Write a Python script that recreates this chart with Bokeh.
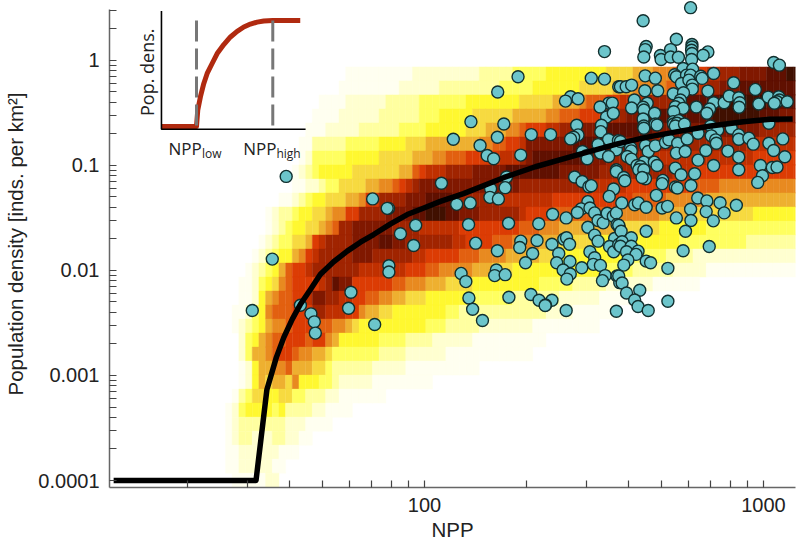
from math import pi
from bokeh.embed import file_html
from bokeh.models import ColumnDataSource, FixedTicker, LinearScale, Range1d
from bokeh.plotting import figure
from bokeh.resources import INLINE
from bokeh.core.properties import value

# ---- tick labels
x_ticks = [100, 1000]
x_minor = [20, 30, 40, 50, 60, 70, 80, 90, 200, 300, 400, 500, 600, 700, 800, 900]
y_ticks = [0.0001, 0.001, 0.01, 0.1, 1]
y_minor = [m * d for d in (0.0001, 0.001, 0.01, 0.1, 1) for m in (2, 3, 4, 5, 6, 7, 8, 9) if m * d < 3.04]
y_tick_labels = {0.0001: "0.0001", 0.001: "0.001", 0.01: "0.01", 0.1: "0.1", 1: "1"}

# ---- posterior density heat map: one string per density bin, one level per NPP bin
heat_x_first_log = 1.413
heat_x_step_log = 0.0197
heat_y_top_log = -0.0635
heat_y_step_log = 2 / 15
heat_palette = {
    "0": "#ffffff", "1": "#fffff0", "2": "#ffffd0", "3": "#ffffa0", "4": "#ffff60", "5": "#fff830",
    "6": "#f7da40", "7": "#eeb030", "8": "#e88a20", "9": "#e26010", "a": "#dc3c04", "b": "#c03000",
    "c": "#a02400", "d": "#801800", "e": "#601000", "f": "#401000",
}
heat_rows = [
    "00000 00000 00000 00011 11111 11122 22222 22233 33344 44455 55555 55666 67778 889aa aabbc ccddd deeef f",
    "00000 00000 00000 00111 11111 12222 22333 33333 34444 45555 55566 66677 78888 899ab bbccd ddeee eeeee e",
    "00000 00000 00001 11122 22223 33334 44444 45555 55556 66667 77789 99aab bbbcc ccdde eeeef fffff feeee e",
    "00000 00000 00011 11222 22233 33334 44555 55666 66677 77788 999aa aabcc ddeee eeeee eeeff fffff eeedd d",
    "00000 00000 00111 22222 33333 34444 55555 56667 77889 aaabb cccdd ddeee eeeed ddddd ddddd ddddd ccccc c",
    "00000 00000 01133 33344 44455 55666 77777 77788 99aab ddddd ddeee eeedd ddddc ccccc ccccc cccbb bbbbb b",
    "00000 00000 01244 44455 55566 66677 78899 9aaaa abbbc deeee eeeed ddccc cccbb bbbbb bbbbb bbbba aaaaa a",
    "00000 00000 12345 55556 66666 6779a bbbcc ccddd ddeee eeeee ddddd dcccc ccccc ccbbb aaaaa aaaaa aaaaa a",
    "00000 00000 11223 44666 67788 9abcd ddddd ddddd ddddc ccccc ccccc bbbbb aaaaa aaaaa 99998 88888 88888 8",
    "00000 00011 23455 66677 8aacc ccddd eeeed ccccc cbbbb bbbba aaaaa aaaaa a9999 98888 88777 77777 77777 7",
    "00000 01233 45566 788aa ccccd dddee fffee dddcc ccccb aaaa9 99999 99998 88888 77777 66666 66665 55555 5",
    "00000 01234 55667 89ccd ddddd ccccb bbbbb aaaaa aaaa9 99888 77777 77776 66666 55555 55444 44444 44444 4",
    "00000 12344 667ab ccccd dddee ddccc ccccb baaaa 99988 88777 66666 55555 55555 55544 44444 44433 33333 3",
    "00001 23455 78abc ccccd ddccc cccbb aaaaa 99988 88777 77666 55555 55555 54444 43333 22222 22222 22222 2",
    "00012 34579 aabcc ccccc bbbbb bbaaa 99888 88777 66655 55555 55555 54444 43333 33222 22111 11111 11111 1",
    "00112 45689 aaaab cedda aaaaa 99888 77766 66555 55555 55444 44333 33222 22221 11111 10000 00000 00000 0",
    "00112 57899 aabdd ccbba a9988 77666 55555 55444 44433 33333 22222 21111 10000 00000 00000 00000 00000 0",
    "01124 58999 aaacc bbbaa 87766 55555 55544 33333 33333 33322 22111 11110 00000 00000 00000 00000 00000 0",
    "01234 57889 aaaa9 98876 55555 55555 44433 33322 22222 21111 11111 10000 00000 00000 00000 00000 00000 0",
    "00245 7899a aa9aa 87555 55544 44333 32222 22111 11111 11100 00000 00000 00000 00000 00000 00000 00000 0",
    "00247 789aa 98877 64444 44433 33222 22211 11111 11111 10000 00000 00000 00000 00000 00000 00000 00000 0",
    "00125 77889 77766 43333 33222 22111 11111 11100 00000 00000 00000 00000 00000 00000 00000 00000 00000 0",
    "00125 76776 85554 43222 22111 11111 10000 00000 00000 00000 00000 00000 00000 00000 00000 00000 00000 0",
    "01346 65566 44333 22111 11110 00000 00000 00000 00000 00000 00000 00000 00000 00000 00000 00000 00000 0",
    "12455 55453 33322 11110 00000 00000 00000 00000 00000 00000 00000 00000 00000 00000 00000 00000 00000 0",
    "12333 33332 22111 10000 00000 00000 00000 00000 00000 00000 00000 00000 00000 00000 00000 00000 00000 0",
    "12332 22332 21100 00000 00000 00000 00000 00000 00000 00000 00000 00000 00000 00000 00000 00000 00000 0",
    "11222 22211 10000 00000 00000 00000 00000 00000 00000 00000 00000 00000 00000 00000 00000 00000 00000 0",
    "11222 22110 00000 00000 00000 00000 00000 00000 00000 00000 00000 00000 00000 00000 00000 00000 00000 0",
    "01111 12200 00000 00000 00000 00000 00000 00000 00000 00000 00000 00000 00000 00000 00000 00000 00000 0",
]

# ---- mean relationship (log10 NPP, log10 density)
curve_log_npp = [1.083, 1.503, 1.535, 1.563, 1.585, 1.610, 1.634, 1.664, 1.693, 1.732, 1.772, 1.811, 1.850,
                 1.900, 1.949, 1.998, 2.047, 2.115, 2.233, 2.327, 2.451, 2.569, 2.646, 2.746, 2.844, 2.941,
                 3.021, 3.086]
curve_log_density = [-4, -4, -3.137, -2.828, -2.638, -2.464, -2.322, -2.18, -2.038, -1.918, -1.817, -1.732,
                     -1.659, -1.557, -1.469, -1.406, -1.343, -1.27, -1.118, -1.014, -0.9, -0.796, -0.739,
                     -0.68, -0.626, -0.585, -0.562, -0.559]

# ---- observed populations (log10 NPP, log10 density)
obs_low_npp = [
    (1.592, -1.106), (1.847, -1.320), (1.894, -1.410), (1.890, -1.410), (1.974, -1.571), (1.929, -1.652),
    (1.968, -1.763), (2.050, -1.171), (1.551, -1.893), (1.895, -1.956), (1.895, -2.016), (1.783, -2.209),
    (1.776, -2.360), (1.853, -2.515), (1.492, -2.382), (1.634, -2.332), (1.665, -2.414), (1.675, -2.490),
    (1.678, -2.597),
]
obs_mid_upper = [
    (2.531, 0.082), (2.276, -0.158), (2.492, -0.171), (2.531, -0.180), (2.573, -0.253), (2.216, -0.303),
    (2.431, -0.348), (2.416, -0.389), (2.453, -0.367), (2.137, -0.585), (2.234, -0.607), (2.544, -0.408),
    (2.518, -0.446), (2.554, -0.509), (2.537, -0.540), (2.449, -0.619), (2.522, -0.619), (2.520, -0.680),
    (2.085, -0.752), (2.164, -0.812), (2.215, -0.733), (2.315, -0.708), (2.372, -0.708), (2.453, -0.711),
    (2.440, -0.733), (2.431, -0.749), (2.543, -0.755), (2.512, -0.803), (2.572, -0.765), (2.566, -0.853),
    (2.466, -0.869), (2.519, -0.884), (2.543, -0.917), (2.478, -0.910), (2.480, -0.938), (2.185, -0.907),
    (2.204, -0.938), (2.284, -0.903), (2.566, -1.043),
]
obs_mid_lower = [
    (2.242, -1.112), (2.195, -1.223), (2.238, -1.213), (2.193, -1.305), (2.218, -1.320), (2.095, -1.372),
    (2.135, -1.358), (2.130, -1.564), (2.248, -1.552), (2.337, -1.557), (2.378, -1.466), (2.418, -1.501),
    (2.443, -1.112), (2.465, -1.154), (2.485, -1.204), (2.492, -1.194), (2.566, -1.059), (2.558, -1.226),
    (2.545, -1.296), (2.482, -1.346), (2.462, -1.415), (2.451, -1.450), (2.488, -1.406), (2.502, -1.453),
    (2.512, -1.526), (2.527, -1.548), (2.539, -1.457), (2.557, -1.485), (2.566, -1.453), (2.482, -1.590),
    (2.568, -1.564), (2.575, -1.595), (2.502, -1.665), (2.512, -1.722), (2.561, -1.697), (2.546, -1.773),
    (2.558, -1.823), (2.573, -1.754), (2.151, -1.741), (2.215, -1.813), (2.284, -1.722), (2.281, -1.782),
    (2.332, -1.716), (2.376, -1.751), (2.411, -1.703), (2.419, -1.690), (2.428, -1.751), (2.319, -1.839),
    (2.298, -1.927), (2.396, -1.839), (2.390, -1.927), (2.429, -1.915), (2.488, -1.823), (2.502, -1.880),
    (2.498, -1.943), (2.519, -1.953), (2.464, -1.975), (2.409, -1.997), (2.430, -2.035), (2.420, -2.083),
    (2.533, -2.050), (2.525, -2.098), (2.568, -2.054), (2.576, -2.117), (2.108, -2.029), (2.122, -2.107),
    (2.212, -1.997), (2.207, -2.050), (2.238, -2.041), (2.131, -2.263), (2.249, -2.256), (2.142, -2.370),
    (2.171, -2.477), (2.314, -2.230), (2.338, -2.284), (2.376, -2.284), (2.357, -2.329), (2.356, -2.335),
    (2.418, -2.382), (2.566, -2.389),
]
obs_high_upper = [
    (2.785, 0.500), (2.645, 0.376), (2.743, 0.199), (2.654, 0.130), (2.651, 0.101), (2.647, 0.031),
    (2.696, 0.045), (2.698, 0.007), (2.726, 0.101), (2.726, 0.031), (2.749, 0.028), (2.789, 0.149),
    (2.789, 0.126), (2.788, 0.095), (2.789, 0.064), (2.788, 0.007), (2.836, 0.079), (2.822, 0.047),
    (3.030, -0.022), (3.047, -0.047), (2.763, -0.079), (2.791, -0.085), (2.651, -0.149), (2.681, -0.171),
    (2.738, -0.139), (2.743, -0.158), (2.773, -0.142), (2.785, -0.142), (2.815, -0.152), (2.819, -0.173),
    (2.853, -0.126), (2.912, -0.215), (2.758, -0.221), (2.780, -0.190), (2.790, -0.237), (2.790, -0.275),
    (2.578, -0.253), (2.595, -0.253), (2.611, -0.237), (2.650, -0.291), (2.688, -0.291), (2.734, -0.319),
    (2.764, -0.310), (2.836, -0.294), (2.976, -0.278), (2.619, -0.379), (2.611, -0.455), (2.657, -0.410),
    (2.645, -0.448), (2.647, -0.474), (2.755, -0.379), (2.750, -0.410), (2.740, -0.443), (2.763, -0.458),
    (2.735, -0.490), (2.802, -0.446), (2.853, -0.405), (2.884, -0.405), (2.899, -0.341), (2.927, -0.357),
    (2.930, -0.405), (2.928, -0.448), (2.841, -0.464), (2.833, -0.505), (2.986, -0.417), (3.014, -0.351),
    (3.045, -0.348), (3.047, -0.379), (3.040, -0.395), (3.032, -0.410), (3.070, -0.395), (2.679, -0.505),
    (2.554, -0.408), (2.557, -0.505), (2.645, -0.559), (2.647, -0.626), (2.647, -0.647), (2.681, -0.607),
    (2.686, -0.616), (2.734, -0.585), (2.735, -0.607), (2.750, -0.575), (2.745, -0.600), (2.740, -0.626),
    (2.767, -0.607), (2.844, -0.626), (2.865, -0.664), (2.905, -0.647), (3.016, -0.600), (2.807, -0.695),
    (2.846, -0.720), (2.859, -0.758), (2.861, -0.790), (2.927, -0.711), (2.927, -0.752), (2.957, -0.742),
    (2.970, -0.799), (3.057, -0.749), (3.016, -0.790), (3.030, -0.860), (3.063, -0.919), (2.578, -0.774),
    (2.608, -0.831), (2.610, -0.863), (2.652, -0.812), (2.660, -0.869), (2.681, -0.815), (2.711, -0.784),
    (2.721, -0.758), (2.747, -0.790), (2.775, -0.749), (2.743, -0.884), (2.769, -0.869), (2.830, -0.860),
    (2.895, -0.865), (2.927, -0.922), (2.807, -0.951), (2.598, -0.917), (2.610, -0.941), (2.647, -0.970),
    (2.627, -1.002), (2.637, -1.011), (2.678, -0.970), (2.686, -1.002), (2.740, -1.027), (2.853, -1.002),
    (2.927, -1.043), (2.991, -1.002), (3.026, -1.021), (3.040, -1.017),
]
obs_high_lower = [
    (2.632, -1.043), (2.647, -1.043), (2.652, -1.128), (2.642, -1.116), (2.588, -1.116), (2.591, -1.147),
    (2.703, -1.144), (2.701, -1.175), (2.757, -1.090), (2.797, -1.081), (2.786, -1.192), (2.740, -1.207),
    (2.746, -1.216), (2.997, -1.100), (2.983, -1.163), (2.684, -1.286), (2.806, -1.311), (2.833, -1.339),
    (2.872, -1.356), (2.920, -1.381), (2.582, -1.358), (2.620, -1.375), (2.631, -1.358), (2.654, -1.400),
    (2.701, -1.406), (2.717, -1.391), (2.785, -1.419), (2.831, -1.441), (2.884, -1.453), (2.743, -1.501),
    (2.786, -1.526), (2.852, -1.529), (2.573, -1.571), (2.580, -1.628), (2.654, -1.628), (2.770, -1.628),
    (2.610, -1.690), (2.583, -1.728), (2.578, -1.770), (2.610, -1.770), (2.596, -1.823), (2.630, -1.817),
    (2.624, -1.848), (2.763, -1.813), (2.840, -1.773), (2.600, -1.902), (2.588, -1.950), (2.654, -1.912),
    (2.667, -1.927), (2.718, -1.981), (2.573, -2.054), (2.583, -2.120), (2.596, -2.215), (2.635, -2.190),
    (2.620, -2.282), (2.630, -2.344), (2.660, -2.382), (2.718, -2.294),
]

# ---- inset schematic (NPP_low = 1, NPP_high = 2; saturated density = 1)
inset_curve_npp = [0.546, 1, 1.017, 1.052, 1.096, 1.14, 1.205, 1.271, 1.358, 1.445, 1.533, 1.62, 1.707,
                   1.795, 1.882, 2, 2.36]
inset_curve_density = [0, 0, 0.156, 0.281, 0.406, 0.5, 0.594, 0.688, 0.772, 0.844, 0.897, 0.938, 0.966,
                       0.984, 0.994, 1, 1]

p = figure(
    width=796, height=543, output_backend="svg", toolbar_location=None,
    x_axis_type="log", y_axis_type="log",
    x_range=(11.77, 1243), y_range=(8.58e-5, 3.70),
    min_border_left=109, min_border_right=1, min_border_top=0, min_border_bottom=54,
    background_fill_color="white", border_fill_color="white",
)
p.outline_line_color = None
p.grid.visible = False

p.extra_x_ranges["inset"] = Range1d(-0.140, 8.851)
p.extra_y_ranges["inset"] = Range1d(-3.404, 1.188)
p.extra_x_scales["inset"] = LinearScale()
p.extra_y_scales["inset"] = LinearScale()

left, right, top, bottom, colors = [], [], [], [], []
for r, row in enumerate(heat_rows):
    for c, level in enumerate(row.replace(" ", "")):
        if level == "0":
            continue
        left.append(10 ** (heat_x_first_log + c * heat_x_step_log))
        right.append(10 ** (heat_x_first_log + (c + 1) * heat_x_step_log))
        top.append(10 ** (heat_y_top_log - r * heat_y_step_log))
        bottom.append(10 ** (heat_y_top_log - (r + 1) * heat_y_step_log))
        colors.append(heat_palette[level])
p.quad(left=left, right=right, top=top, bottom=bottom, fill_color=colors, line_color=colors, line_width=0.4)

obs = obs_low_npp + obs_mid_upper + obs_mid_lower + obs_high_upper + obs_high_lower
src = ColumnDataSource(dict(x=[10 ** a for a, _ in obs], y=[10 ** b for _, b in obs]))
p.scatter("x", "y", source=src, size=12, fill_color="#6cc5cb", line_color="#12302f", line_width=1.4)

p.line([10 ** v for v in curve_log_npp], [10 ** v for v in curve_log_density],
       line_color="black", line_width=5.5, line_join="round")

# inset
iargs = dict(x_range_name="inset", y_range_name="inset")
p.line(inset_curve_npp, inset_curve_density, line_color="#b02a10", line_width=5, line_join="round", **iargs)
for pos in (1, 2):
    p.line([pos, pos], [1, -0.026], line_color="#777777", line_width=3, line_dash="21 7", **iargs)
p.line([0.541, 0.541, 2.43], [1.09, -0.026, -0.026], line_color="black", line_width=1.6, **iargs)
font = value("Open Sans")
p.text([0.358], [0.512], text=["Pop. dens."], angle=pi / 2, text_font=font, text_font_size="18px",
       text_align="center", text_baseline="middle", text_color="#222222", **iargs)
p.text([0.633, 1.612], [-0.211, -0.211], text=["NPP", "NPP"], text_font=font, text_font_size="17px",
       text_align="left", text_baseline="middle", text_color="#222222", **iargs)
p.text([1.072, 2.048], [-0.258, -0.258], text=["low", "high"], text_font=font, text_font_size="12px",
       text_align="left", text_baseline="middle", text_color="#222222", **iargs)

xa = p.xaxis[0]
xa.ticker = FixedTicker(ticks=x_ticks, minor_ticks=x_minor)
xa.major_label_overrides = {100: "100", 1000: "1000"}
xa.axis_label = "NPP"
ya = p.yaxis[0]
ya.ticker = FixedTicker(ticks=y_ticks, minor_ticks=y_minor)
ya.major_label_overrides = y_tick_labels
ya.axis_label = "Population density [inds. per km²]"
ya.bounds = (8.58e-5, 3.04)
for ax in (xa, ya):
    ax.axis_line_color = "#666666"
    ax.axis_line_width = 1.5
    ax.major_tick_in = 7
    ax.major_tick_out = 0
    ax.minor_tick_in = 7
    ax.minor_tick_out = 0
    ax.major_tick_line_color = "#444444"
    ax.minor_tick_line_color = "#444444"
    ax.major_tick_line_width = 1.2
    ax.minor_tick_line_width = 1.2
    ax.major_label_text_font = "Liberation Sans"
    ax.major_label_text_font_size = "20px"
    ax.major_label_text_color = "#222222"
    ax.major_label_standoff = 10
    ax.axis_label_text_font = "Liberation Sans"
    ax.axis_label_text_font_size = "20.5px"
    ax.axis_label_text_font_style = "normal"
    ax.axis_label_text_color = "#222222"
xa.axis_label_standoff = 3
ya.axis_label_standoff = 8

open("out.html", "w").write(file_html(p, INLINE))
